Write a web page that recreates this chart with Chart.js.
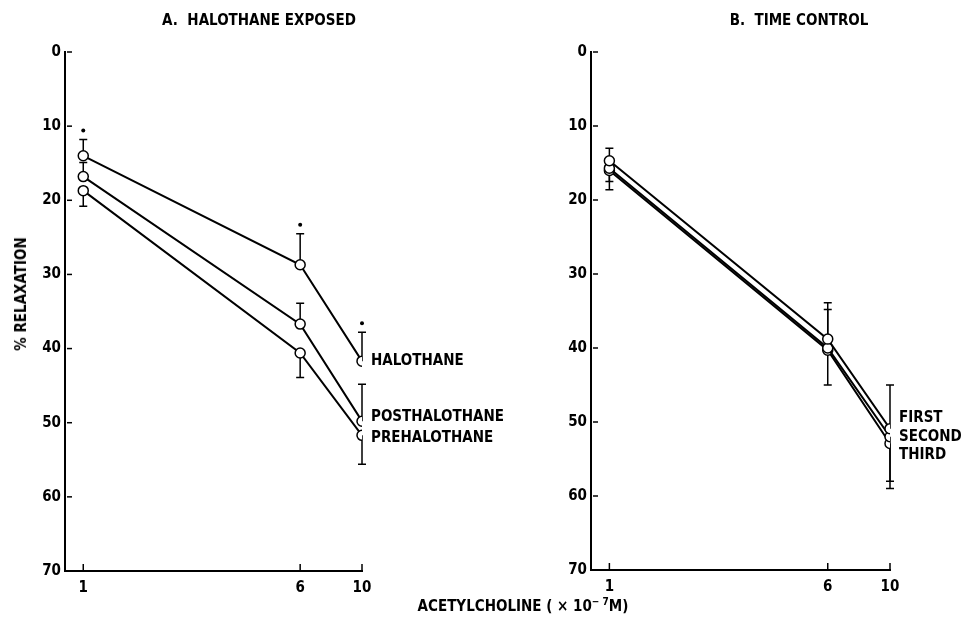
<!DOCTYPE html>
<html>
<head>
<meta charset="utf-8">
<script src="https://cdn.jsdelivr.net/npm/chart.js@4.4.1/dist/chart.umd.min.js"></script>
<style>
  body { margin: 0; background: #fff; width: 966px; height: 623px; position: relative; overflow: hidden;
         font-family: "Liberation Sans Narrow", "DejaVu Sans Condensed", sans-serif; font-weight: bold; color: #000; }
  .wrap { position: absolute; top: 0; height: 623px; }
  #wrapA { left: 0; width: 526px; }
  #wrapB { left: 526px; width: 440px; }
  .txt { position: absolute; white-space: nowrap; font-size: 15px; transform: translate(-50%, -50%); }
  #ylab { transform: translate(-50%, -50%) rotate(-90deg); }
  sup { font-size: 10px; }
</style>
</head>
<body>
<div class="wrap" id="wrapA"><canvas id="chartA"></canvas></div>
<div class="wrap" id="wrapB"><canvas id="chartB"></canvas></div>
<div class="txt" style="left:259px; top:20px;">A.&nbsp; HALOTHANE EXPOSED</div>
<div class="txt" style="left:799px; top:20px;">B.&nbsp; TIME CONTROL</div>
<div class="txt" style="left:523px; top:605px;">ACETYLCHOLINE ( &times; 10<sup>&minus; 7</sup>M)</div>
<div class="txt" id="ylab" style="left:21px; top:294px;">% RELAXATION</div>
<script>
const FONT = '"Liberation Sans Narrow", "DejaVu Sans Condensed", sans-serif';

// data
const doses = [1, 6, 10];
const xTicks = [1, 6, 10];
const yTicks = [0, 10, 20, 30, 40, 50, 60, 70];

// A. halothane exposed (% relaxation, error bar end)
const halothane = [14, 28.7, 41.7];
const halothaneErr = [11.8, 24.5, 37.8];
const halothaneSig = [true, true, true];
const posthalothane = [16.8, 36.7, 49.8];
const posthalothaneErr = [14.9, 33.9, 44.8];
const prehalothane = [18.7, 40.6, 51.7];
const prehalothaneErr = [20.8, 43.9, 55.6];

// B. time control
const first = [14.7, 38.8, 50.9];
const firstErr = [13, 33.9, 45];
const second = [15.7, 40.0, 52.0];
const secondErr = [17.5, 34.8, 58];
const third = [16.0, 40.3, 52.9];
const thirdErr = [18.6, 45, 59];

function pts(vals) {
  return doses.map((d, i) => ({ x: d, y: vals[i] }));
}

function series(label, vals, errs, labelDy, sig) {
  return {
    label: label,
    data: pts(vals),
    errEnds: errs,
    sig: sig || [],
    labelDy: labelDy,
    borderColor: "#000",
    borderWidth: 2,
    pointRadius: 5,
    pointHoverRadius: 5,
    pointBackgroundColor: "#fff",
    pointBorderColor: "#000",
    pointBorderWidth: 1.5,
    tension: 0,
  };
}

// error bars, axis ticks, end labels
const extras = {
  id: "extras",
  beforeDatasetsDraw(chart) {
    const ctx = chart.ctx, xs = chart.scales.x, ys = chart.scales.y;
    ctx.save();
    ctx.strokeStyle = "#000";
    ctx.fillStyle = "#000";
    ctx.lineWidth = 1.5;
    chart.data.datasets.forEach(ds => {
      ds.errEnds.forEach((e, i) => {
        const x = xs.getPixelForValue(ds.data[i].x);
        const y0 = ys.getPixelForValue(ds.data[i].y);
        const y1 = ys.getPixelForValue(e);
        ctx.beginPath();
        ctx.moveTo(x, y0);
        ctx.lineTo(x, y1);
        ctx.moveTo(x - 4, y1);
        ctx.lineTo(x + 4, y1);
        ctx.stroke();
        if (ds.sig[i]) {
          ctx.beginPath();
          ctx.arc(x, y1 - 9, 2, 0, Math.PI * 2);
          ctx.fill();
        }
      });
    });
    // inner tick marks
    ctx.lineWidth = 1.5;
    yTicks.forEach(v => {
      const y = ys.getPixelForValue(v);
      ctx.beginPath();
      ctx.moveTo(xs.left + 2, y);
      ctx.lineTo(xs.left + 7, y);
      ctx.stroke();
    });
    xTicks.forEach(v => {
      const x = xs.getPixelForValue(v);
      ctx.beginPath();
      ctx.moveTo(x, ys.bottom);
      ctx.lineTo(x, ys.bottom - 7);
      ctx.stroke();
    });
    ctx.restore();
  },
  afterDatasetsDraw(chart) {
    const ctx = chart.ctx, xs = chart.scales.x, ys = chart.scales.y;
    ctx.save();
    ctx.fillStyle = "#000";
    ctx.font = "bold 15px " + FONT;
    ctx.textBaseline = "middle";
    chart.data.datasets.forEach(ds => {
      const last = ds.data[ds.data.length - 1];
      ctx.fillText(ds.label, xs.getPixelForValue(last.x) + 9, ys.getPixelForValue(last.y) + ds.labelDy);
    });
    ctx.restore();
  }
};

function makeOptions(padRight, padBottom) {
  return {
    responsive: false,
    animation: false,
    layout: { padding: { top: 52, right: padRight, bottom: padBottom, left: 0 } },
    plugins: { legend: { display: false }, tooltip: { enabled: false } },
    scales: {
      x: {
        type: "logarithmic",
        min: 0.86,
        max: 10,
        afterBuildTicks: s => { s.ticks = xTicks.map(v => ({ value: v })); },
        afterFit: s => { s.height = 30; },
        grid: { display: false, drawTicks: false },
        border: { display: true, color: "#000", width: 2 },
        ticks: { color: "#000", padding: 8, font: { family: FONT, size: 15, weight: "bold" },
                 callback: v => String(v), autoSkip: false, maxRotation: 0 },
      },
      y: {
        type: "linear",
        reverse: true,
        min: 0,
        max: 70,
        afterBuildTicks: s => { s.ticks = yTicks.map(v => ({ value: v })); },
        afterFit: s => { s.width = 65; },
        grid: { display: false, drawTicks: false },
        border: { display: true, color: "#000", width: 2 },
        ticks: { color: "#000", padding: 4, font: { family: FONT, size: 15, weight: "bold" } },
      }
    }
  };
}

const canvasA = document.getElementById("chartA");
canvasA.width = 526; canvasA.height = 623;
const chartA = new Chart(canvasA, {
  type: "line",
  data: {
    datasets: [
      series("HALOTHANE", halothane, halothaneErr, 0, halothaneSig),
      series("POSTHALOTHANE", posthalothane, posthalothaneErr, -4),
      series("PREHALOTHANE", prehalothane, prehalothaneErr, 3),
    ]
  },
  options: makeOptions(164, 22),
  plugins: [extras],
});

const canvasB = document.getElementById("chartB");
canvasB.width = 440; canvasB.height = 623;
const chartB = new Chart(canvasB, {
  type: "line",
  data: {
    datasets: [
      series("FIRST", first, firstErr, -11),
      series("SECOND", second, secondErr, 0),
      series("THIRD", third, thirdErr, 12),
    ]
  },
  options: makeOptions(76, 23),
  plugins: [extras],
});
</script>
</body>
</html>
